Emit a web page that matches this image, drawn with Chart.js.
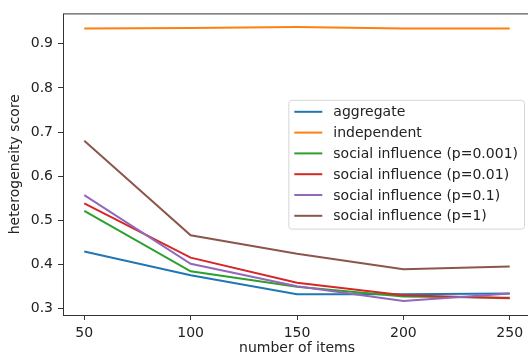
<!DOCTYPE html>
<html>
<head>
<meta charset="utf-8">
<script src="https://cdn.jsdelivr.net/npm/chart.js@4"></script>
<style>
  html, body { margin: 0; padding: 0; background: #fff; overflow: hidden; }
  #wrap { width: 528px; height: 360px; overflow: hidden; }
</style>
</head>
<body>
<div id="wrap"><canvas id="myChart" width="532" height="360"></canvas></div>
<script>
'use strict';

// data
let itemCounts = [50, 100, 150, 200, 250];
let seriesNames = [
  'aggregate',
  'independent',
  'social influence (p=0.001)',
  'social influence (p=0.01)',
  'social influence (p=0.1)',
  'social influence (p=1)'
];
let aggregate = [0.429, 0.375, 0.332, 0.332, 0.334];
let independent = [0.935, 0.936, 0.938, 0.935, 0.935];
let social0001 = [0.521, 0.384, 0.349, 0.327, 0.324];
let social001 = [0.538, 0.415, 0.358, 0.330, 0.323];
let social01 = [0.557, 0.401, 0.350, 0.317, 0.334];
let social1 = [0.680, 0.466, 0.424, 0.389, 0.395];
let xTicks = [50, 100, 150, 200, 250];
let yTicks = [0.3, 0.4, 0.5, 0.6, 0.7, 0.8, 0.9];

let allSeries = [aggregate, independent, social0001, social001, social01, social1];
let colors = ['#1f77b4', '#ff7f0e', '#2ca02c', '#d62728', '#9467bd', '#8c564b'];

let fontFamily = '"DejaVu Sans", sans-serif';
let textColor = '#222';
let spineColor = '#333';

function makeDatasets() {
  let datasets = [];
  for (let i = 0; i < allSeries.length; i++) {
    datasets.push({
      label: seriesNames[i],
      data: itemCounts.map((x, j) => ({ x: x, y: allSeries[i][j] })),
      borderColor: colors[i],
      backgroundColor: colors[i],
      borderWidth: 2,
      pointRadius: 0,
      tension: 0,
      order: allSeries.length - i
    });
  }
  return datasets;
}

// box around the plot area, like matplotlib spines
let spinesPlugin = {
  id: 'spines',
  afterDatasetsDraw(chart) {
    let a = chart.chartArea;
    let ctx = chart.ctx;
    ctx.save();
    ctx.strokeStyle = spineColor;
    ctx.lineWidth = 1;
    ctx.strokeRect(a.left + 0.5, a.top + 0.5, a.right - a.left - 1, a.bottom - a.top);
    ctx.restore();
  }
};

// legend placed "center right" inside the axes
let legendPlugin = {
  id: 'innerLegend',
  afterDraw(chart) {
    let a = chart.chartArea;
    let ctx = chart.ctx;
    let fontSize = 14;
    let rowH = 20.8;
    let handleLen = 28;
    let handlePad = 11;
    let pad = 6;
    ctx.save();
    ctx.font = fontSize + 'px ' + fontFamily;
    let maxW = 0;
    for (let i = 0; i < seriesNames.length; i++) {
      maxW = Math.max(maxW, ctx.measureText(seriesNames[i]).width);
    }
    let boxW = pad + handleLen + handlePad + maxW + pad;
    let boxH = rowH * seriesNames.length + 4;
    let boxX = a.right - 7 - boxW;
    let boxY = (a.top + a.bottom) / 2 - boxH / 2;

    ctx.beginPath();
    ctx.roundRect(boxX + 0.5, boxY + 0.5, boxW, boxH, 3);
    ctx.fillStyle = 'rgba(255,255,255,0.8)';
    ctx.fill();
    ctx.strokeStyle = '#d6d6d6';
    ctx.lineWidth = 1;
    ctx.stroke();

    ctx.textBaseline = 'middle';
    ctx.textAlign = 'left';
    for (let i = 0; i < seriesNames.length; i++) {
      let cy = boxY + 12 + i * rowH;
      ctx.beginPath();
      ctx.moveTo(boxX + pad, cy);
      ctx.lineTo(boxX + pad + handleLen, cy);
      ctx.strokeStyle = colors[i];
      ctx.lineWidth = 2;
      ctx.stroke();
      ctx.fillStyle = textColor;
      ctx.fillText(seriesNames[i], boxX + pad + handleLen + handlePad, cy + 1);
    }
    ctx.restore();
  }
};

let ctx = document.getElementById('myChart').getContext('2d');
new Chart(ctx, { // eslint-disable-line
  type: 'line',
  data: { datasets: makeDatasets() },
  options: {
    responsive: false,
    animation: false,
    devicePixelRatio: 1,
    layout: { padding: { left: 0, right: 1, top: 11, bottom: 0 } },
    plugins: {
      legend: { display: false },
      tooltip: { enabled: false }
    },
    scales: {
      x: {
        type: 'linear',
        min: 40,
        max: 260,
        afterBuildTicks: (scale) => { scale.ticks = xTicks.map(v => ({ value: v })); },
        afterFit: (scale) => { scale.height = 45; },
        grid: { display: true, drawOnChartArea: false, drawTicks: true, tickLength: 5, color: spineColor },
        border: { display: false },
        ticks: {
          color: textColor,
          font: { family: fontFamily, size: 14 },
          padding: 5,
          maxRotation: 0,
          autoSkip: false
        },
        title: {
          display: true,
          text: 'number of items',
          color: textColor,
          font: { family: fontFamily, size: 14 },
          padding: { top: 0, bottom: 3 }
        }
      },
      y: {
        type: 'linear',
        min: 0.285,
        max: 0.969,
        afterBuildTicks: (scale) => { scale.ticks = yTicks.map(v => ({ value: v })); },
        afterFit: (scale) => { scale.width = 63; },
        grid: { display: true, drawOnChartArea: false, drawTicks: true, tickLength: 5, color: spineColor },
        border: { display: false },
        ticks: {
          color: textColor,
          font: { family: fontFamily, size: 14 },
          padding: 5,
          callback: (v) => v.toFixed(1)
        },
        title: {
          display: true,
          text: 'heterogeneity score',
          color: textColor,
          font: { family: fontFamily, size: 14 },
          padding: { top: 7, bottom: 0 }
        }
      }
    }
  },
  plugins: [spinesPlugin, legendPlugin]
});
</script>
</body>
</html>
